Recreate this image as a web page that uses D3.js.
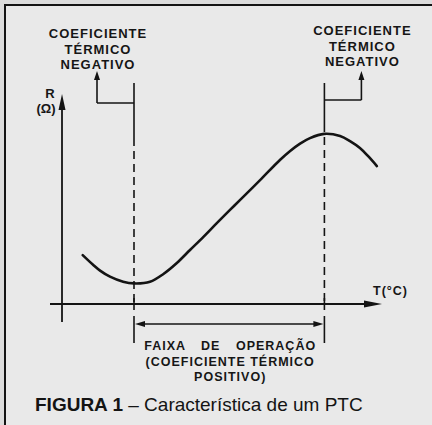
<!DOCTYPE html>
<html>
<head>
<meta charset="utf-8">
<script src="https://cdn.jsdelivr.net/npm/d3@7"></script>
<style>
body{margin:0;background:#dcdcdc;}
svg{display:block;}
.lbl{font-family:"Liberation Sans",Arial,sans-serif;font-weight:bold;fill:#161616;}
</style>
</head>
<body>
<div id="chart"></div>
<script>
// curve R(T) (arbitrary units 0..100)
var tempValues   = [6.47, 9.78, 11.9, 15.0, 19.1, 22.5, 27.5, 31.7, 35.8, 40.0, 44.2, 48.3, 52.5, 55.6, 61.9, 68.1, 71.3, 74.4, 77.5, 81.9, 86.9, 90.0, 93.1, 95.6, 98.4];
var resistValues = [23.3, 18.6, 15.9, 13.0, 10.6, 9.8, 10.6, 14.3, 19.4, 25.7, 32.0, 38.4, 44.8, 49.5, 59.0, 68.6, 72.9, 76.4, 79.0, 81.0, 80.0, 77.6, 74.3, 70.5, 65.7];
// limits of the operating range (temperature)
var limitTemps = [22.5, 82];
var calloutLines = ["COEFICIENTE", "TÉRMICO", "NEGATIVO"];
var rangeLines = ["FAIXA DE OPERAÇÃO", "(COEFICIENTE TÉRMICO", "POSITIVO)"];
var yAxisLabel = ["R", "(Ω)"];
var xAxisLabel = "T(°C)";
var captionBold = "FIGURA 1";
var captionRest = " – Característica de um PTC";

(function () {
  'use strict'

  var W = 432, H = 425;
  var ink = "#141414";

  var x = d3.scaleLinear().domain([0, 100]).range([62, 382]);
  var y = d3.scaleLinear().domain([0, 100]).range([304, 94]);

  var svg = d3.select("#chart").append("svg")
    .attr("width", W)
    .attr("height", H);

  // paper + frame
  svg.append("rect").attr("x", 0).attr("y", 0).attr("width", W).attr("height", H).attr("fill", "#dcdcdc");
  svg.append("rect").attr("x", 5).attr("y", 5).attr("width", W + 20).attr("height", H + 20)
    .attr("fill", "#e9e9e9").attr("stroke", ink).attr("stroke-width", 2);

  function tri(tipX, tipY, dir, len, half) {
    // dir: "up", "right", "left"
    var p;
    if (dir == "up") p = [[tipX, tipY], [tipX - half, tipY + len], [tipX + half, tipY + len]];
    else if (dir == "right") p = [[tipX, tipY], [tipX - len, tipY - half], [tipX - len, tipY + half]];
    else p = [[tipX, tipY], [tipX + len, tipY - half], [tipX + len, tipY + half]];
    svg.append("path").attr("d", "M" + p.join("L") + "Z").attr("fill", ink);
  }
  function seg(x1, y1, x2, y2, w, dash) {
    var l = svg.append("line").attr("x1", x1).attr("y1", y1).attr("x2", x2).attr("y2", y2)
      .attr("stroke", ink).attr("stroke-width", w || 1.6);
    if (dash) l.attr("stroke-dasharray", dash);
    return l;
  }

  // axes
  var x0 = x(0), y0 = y(0);
  seg(x0, y0 + 18, x0, y(100) + 10, 1.8);
  tri(x0, y(100), "up", 16, 3.5);
  seg(x0 - 12, y0, x(100) - 12, y0, 1.8);
  tri(x(100), y0, "right", 18, 3.5);

  svg.append("text").attr("class", "lbl").attr("x", x0 - 12).attr("y", 98)
    .attr("text-anchor", "middle").style("font-size", "13px").text(yAxisLabel[0]);
  svg.append("text").attr("class", "lbl").attr("x", x0 - 16).attr("y", 113)
    .attr("text-anchor", "middle").style("font-size", "13px").text(yAxisLabel[1]);
  svg.append("text").attr("class", "lbl").attr("x", x(100) - 9).attr("y", 295)
    .style("font-size", "12.5px").style("letter-spacing", "1px").text(xAxisLabel);

  // limit lines + callouts
  limitTemps.forEach(function (t, i) {
    var px = x(t);
    var solidEnd = (i == 0) ? 138 : 124;
    var side = (i == 0) ? -1 : 1;
    var ax = px + side * 37;
    var jy = (i == 0) ? 103 : 100;
    seg(px, 83, px, solidEnd, 1.6);
    seg(px, solidEnd, px, y0, 1.6, "8,5");
    seg(px, y0 - 6, px, y0 + 6, 1.6);
    seg(px, 316, px, 343, 1.6);
    seg(px, jy, ax, jy, 1.6);
    seg(ax, jy, ax, 78, 1.6);
    tri(ax, 71, "up", 9, 3);

    var base = (i == 0) ? 38 : 35;
    svg.append("g").selectAll("text")
      .data(calloutLines)
      .enter().append("text")
      .attr("class", "lbl")
      .attr("x", ax + 1)
      .attr("y", function (d, k) { return base + k * 15.5; })
      .attr("text-anchor", "middle")
      .style("font-size", "13px")
      .style("letter-spacing", "1px")
      .text(function (d) { return d; });
  });

  // operating range bracket
  var bx1 = x(limitTemps[0]), bx2 = x(limitTemps[1]);
  seg(bx1 + 8, 324, bx2 - 8, 324, 1.6);
  tri(bx1 + 1, 324, "left", 10, 3);
  tri(bx2 - 1, 324, "right", 10, 3);

  svg.append("g").selectAll("text")
    .data(rangeLines)
    .enter().append("text")
    .attr("class", "lbl")
    .attr("x", (bx1 + bx2) / 2 + 1)
    .attr("y", function (d, k) { return 350 + k * 15.5; })
    .attr("text-anchor", "middle")
    .style("font-size", "12.5px")
    .style("letter-spacing", "1px")
    .style("word-spacing", function (d, k) { return k == 0 ? "11px" : "0px"; })
    .text(function (d) { return d; });

  // the R(T) curve
  var pts = tempValues.map(function (t, i) { return [t, resistValues[i]]; });
  var line = d3.line()
    .x(function (d) { return x(d[0]); })
    .y(function (d) { return y(d[1]); })
    .curve(d3.curveCatmullRom);
  svg.append("path").datum(pts)
    .attr("d", line)
    .attr("fill", "none")
    .attr("stroke", ink)
    .attr("stroke-width", 2.6)
    .attr("stroke-linecap", "round");

  // caption
  var cap = svg.append("text")
    .attr("x", 35).attr("y", 411)
    .style("font-family", '"Liberation Sans",Arial,sans-serif')
    .style("font-size", "19px")
    .attr("fill", ink);
  cap.append("tspan").style("font-weight", "bold").text(captionBold);
  cap.append("tspan").text(captionRest);

})()
</script>
</body>
</html>
